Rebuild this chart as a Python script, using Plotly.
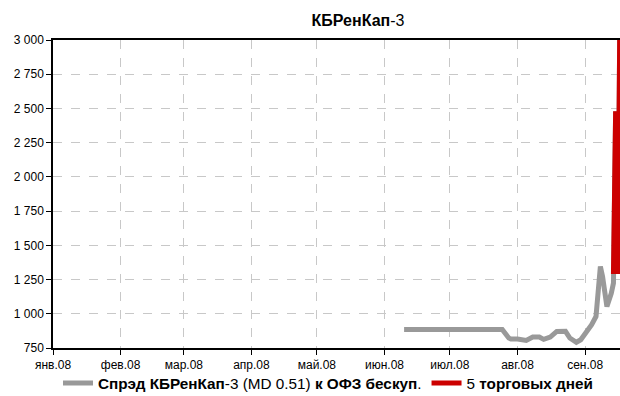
import plotly.graph_objects as go

# Spread series (bp)
gray_dates = ["2008-06-10", "2008-07-25", "2008-07-28", "2008-07-29", "2008-08-01",
              "2008-08-05", "2008-08-08", "2008-08-11", "2008-08-13", "2008-08-16",
              "2008-08-19", "2008-08-23", "2008-08-25", "2008-08-28", "2008-08-30",
              "2008-09-02", "2008-09-04", "2008-09-06", "2008-09-08", "2008-09-09",
              "2008-09-11", "2008-09-13", "2008-09-14", "2008-09-15", "2008-09-16",
              "2008-09-17"]
gray_vals = [885, 885, 823, 816, 816,
             805, 830, 830, 813, 830,
             871, 872, 823, 792, 810,
             871, 920, 980, 1345, 1272,
             1053, 1150, 1224, 2480, 1290,
             3300]

red_dates = ["2008-09-14", "2008-09-15", "2008-09-16", "2008-09-17"]
red_vals = [1290, 2480, 1290, 3300]

month_ticks = ["2008-01-01", "2008-02-01", "2008-03-01", "2008-04-01", "2008-05-01",
               "2008-06-01", "2008-07-01", "2008-08-01", "2008-09-01"]
month_labels = ["янв.08", "фев.08", "мар.08", "апр.08", "май.08",
                "июн.08", "июл.08", "авг.08", "сен.08"]

FONT = "Liberation Sans, Arial, sans-serif"

fig = go.Figure()
fig.add_trace(go.Scatter(
    x=gray_dates, y=gray_vals, mode="lines",
    line=dict(color="#999999", width=5),
    name="<b>Спрэд КБРенКап</b>-3 (MD 0.51) <b>к ОФЗ бескуп</b>.",
))
fig.add_trace(go.Scatter(
    x=red_dates, y=red_vals, mode="lines",
    line=dict(color="#cc0000", width=5),
    name="5 <b>торговых дней</b>",
))

fig.update_layout(
    width=620, height=396,
    margin=dict(l=53, r=0, t=40, b=48, autoexpand=False),
    paper_bgcolor="white", plot_bgcolor="white",
    separators=", ",
    font=dict(family=FONT, size=12, color="#000000"),
    title=dict(text="<b>КБРенКап</b>-3", x=358/620, xref="container", xanchor="center",
               y=1 - 20/396, yref="container", yanchor="middle",
               font=dict(family=FONT, size=16, color="#000000")),
    showlegend=True,
    legend=dict(orientation="h", x=58/620, xref="container", xanchor="left",
                y=1 - 383/396, yref="container", yanchor="middle",
                font=dict(family=FONT, size=15.3, color="#000000"),
                bgcolor="rgba(0,0,0,0)", itemwidth=30, tracegroupgap=0),
)
fig.update_xaxes(
    type="date", range=["2008-01-01", "2008-09-17"],
    tickvals=month_ticks, ticktext=month_labels,
    ticks="outside", ticklen=5, tickcolor="#000000",
    showline=True, linecolor="#000000", linewidth=1.5, mirror=True,
    showgrid=True, gridcolor="#c8c8c8", griddash="dash", gridwidth=1,
    zeroline=False, tickfont=dict(family=FONT, size=12), automargin=False,
)
fig.update_yaxes(
    range=[750, 3000], dtick=250, tick0=750, tickformat=",d",
    ticks="outside", ticklen=5, tickcolor="#000000",
    showline=True, linecolor="#000000", linewidth=1.5, mirror=False,
    showgrid=True, gridcolor="#c8c8c8", griddash="dash", gridwidth=1,
    zeroline=False, tickfont=dict(family=FONT, size=12), automargin=False,
)

fig.write_html("out.html", config={"displayModeBar": False},
               post_script="document.body.style.margin='0';document.body.style.overflow='hidden';")
